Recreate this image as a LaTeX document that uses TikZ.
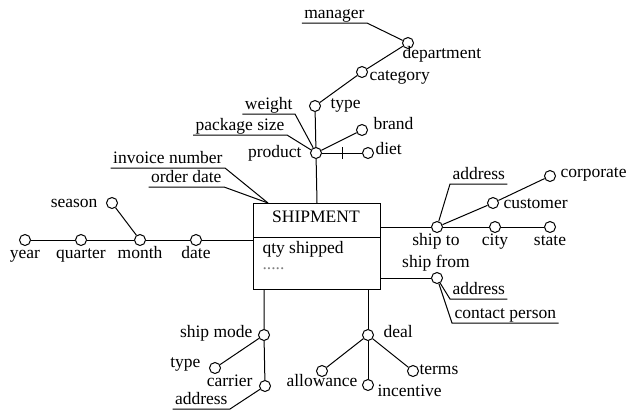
\documentclass[tikz,border=0pt]{standalone}
\usepackage{fontspec}
\setmainfont{Liberation Serif}
\newfontfamily\diagfont{Liberation Serif}
\newcommand{\lblfont}{\diagfont\fontsize{17.5}{20}\selectfont}
\tikzset{
  lvl/.style={circle, draw, minimum size=11pt, inner sep=0pt, fill=white},
  lbl/.style={inner sep=1pt, text height=12pt, text depth=4pt, font=\lblfont},
  attr/.style={inner xsep=2pt, inner ysep=0.5pt, text height=12pt, text depth=4pt, font=\lblfont},
}

\begin{document}
\begin{tikzpicture}[x=1pt, y=-1pt, line width=1pt]
  \useasboundingbox (0,0) rectangle (627,413);
  % fact table
  \node[draw, minimum width=127pt, minimum height=86pt, inner sep=0pt, anchor=north west] (ship) at (253,203) {};
  \draw ([yshift=-34pt]ship.north west) -- ([yshift=-34pt]ship.north east);
  \node[lbl] (title) at (316,218) {SHIPMENT};
  \node[lbl, anchor=west] (qty) at (261,249) {qty shipped};
  \node[lbl, anchor=west, gray] (more) at (261,265) {.....};
  \coordinate (hub) at (268,203);

  % product
  \node[lvl] (dept) at (408,43) {};
  \node[lvl] (categ) at (362,72) {};
  \node[lvl] (ptype) at (315,106) {};
  \node[lvl] (product) at (316,153) {};
  \node[lvl] (brand) at (362,130) {};
  \node[lvl] (diet) at (368,153) {};
  \node[lbl, anchor=west] at (401,54) {department};
  \node[lbl, anchor=west] at (368,76) {category};
  \node[lbl, anchor=west] at (329,104) {type};
  \node[lbl, anchor=east] at (303,153) {product};
  \node[lbl, anchor=west] at (372,125) {brand};
  \node[lbl, anchor=west] at (374,150) {diet};
  \node[attr, anchor=south east] (manager) at (367,23) {manager};
  \node[attr, anchor=south east] (weight) at (295,114) {weight};
  \node[attr, anchor=south east] (pksize) at (287,135) {package size};
  \draw (manager.south west) -- (manager.south east) -- (dept);
  \draw (weight.south west) -- (weight.south east) -- (product);
  \draw (pksize.south west) -- (pksize.south east) -- (product);
  \draw (ptype) -- (categ) -- (dept);
  \draw (product) -- (ptype);
  \draw (product) -- (brand);
  \draw (product) -- (diet) coordinate[pos=0.5] (tk);
  \draw ([yshift=-6pt]tk) -- ([yshift=6pt]tk);
  \draw (product) -- (ship.north);

  % order
  \node[attr, anchor=south east] (invoice) at (225,168) {invoice number};
  \node[attr, anchor=south east] (odate) at (224,187) {order date};
  \draw (invoice.south west) -- (invoice.south east) -- (hub);
  \draw (odate.south west) -- (odate.south east) -- (hub);

  % time
  \node[lvl] (year) at (25,240) {};
  \node[lvl] (quarter) at (81,240) {};
  \node[lvl] (month) at (140,240) {};
  \node[lvl] (date) at (196,240) {};
  \node[lvl] (season) at (112,203) {};
  \node[lbl] at (25,254) {year};
  \node[lbl] at (81,254) {quarter};
  \node[lbl] at (140,254) {month};
  \node[lbl] at (196,254) {date};
  \node[lbl, anchor=east] at (99,203) {season};
  \draw (year) -- (quarter) -- (month) -- (date) -- (date -| ship.west);
  \draw (season) -- (month);

  % ship to / ship from
  \node[lvl] (shipto) at (437,227) {};
  \node[lvl] (city) at (495,227) {};
  \node[lvl] (state) at (550,227) {};
  \node[lvl] (customer) at (493,203) {};
  \node[lvl] (corp) at (550,176) {};
  \node[lvl] (shipfrom) at (437,278) {};
  \node[lbl] at (436,241) {ship to};
  \node[lbl] at (495,241) {city};
  \node[lbl] at (550,241) {state};
  \node[lbl, anchor=west] at (502,204) {customer};
  \node[lbl, anchor=west] at (559,173) {corporate};
  \node[lbl] at (436,263) {ship from};
  \node[attr, anchor=south west] (toaddr) at (450,184) {address};
  \node[attr, anchor=south west] (fromaddr) at (450,299) {address};
  \node[attr, anchor=south west] (contact) at (452,323) {contact person};
  \draw (shipto -| ship.east) -- (shipto) -- (city) -- (state);
  \draw (shipto) -- (customer) -- (corp);
  \draw (shipto) -- (toaddr.south west) -- (toaddr.south east);
  \draw (shipfrom -| ship.east) -- (shipfrom);
  \draw (shipfrom) -- (fromaddr.south west) -- (fromaddr.south east);
  \draw (shipfrom) -- (contact.south west) -- (contact.south east);

  % ship mode
  \node[lvl] (shipmode) at (264,335) {};
  \node[lvl] (mtype) at (215,368) {};
  \node[lvl] (carrier) at (265,386) {};
  \node[lbl, anchor=east] at (254,333) {ship mode};
  \node[lbl, anchor=east] at (202,363) {type};
  \node[lbl, anchor=east] at (254,382) {carrier};
  \node[attr, anchor=south east] (caddr) at (230,409) {address};
  \draw (shipmode |- ship.south) -- (shipmode) -- (carrier);
  \draw (shipmode) -- (mtype);
  \draw (caddr.south west) -- (caddr.south east) -- (carrier);

  % deal
  \node[lvl] (deal) at (368,335) {};
  \node[lvl] (allow) at (322,371) {};
  \node[lvl] (incent) at (368,385) {};
  \node[lvl] (terms) at (413,371) {};
  \node[lbl, anchor=west] at (382,333) {deal};
  \node[lbl, anchor=east] at (359,382) {allowance};
  \node[lbl, anchor=west] at (376,392) {incentive};
  \node[lbl, anchor=west] at (418,370) {terms};
  \draw (deal |- ship.south) -- (deal) -- (incent);
  \draw (deal) -- (allow);
  \draw (deal) -- (terms);
\end{tikzpicture}
\end{document}
